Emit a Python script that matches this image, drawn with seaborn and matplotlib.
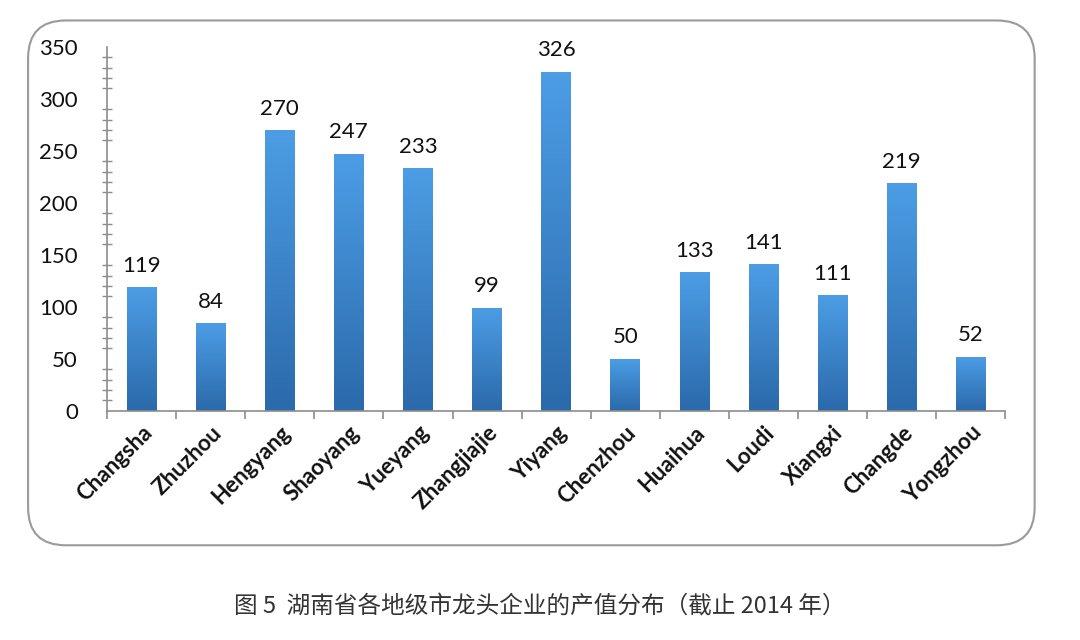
import numpy as np
import pandas as pd
import matplotlib
matplotlib.use("Agg")
import matplotlib.pyplot as plt
import seaborn as sns
from matplotlib.patches import FancyBboxPatch
from matplotlib.colors import LinearSegmentedColormap
from matplotlib.ticker import MultipleLocator, FixedLocator

# data
cities = ['Changsha', 'Zhuzhou', 'Hengyang', 'Shaoyang', 'Yueyang', 'Zhangjiajie',
          'Yiyang', 'Chenzhou', 'Huaihua', 'Loudi', 'Xiangxi', 'Changde', 'Yongzhou']
values = [119, 84, 270, 247, 233, 99, 326, 50, 133, 141, 111, 219, 52]
caption = '图 5  湖南省各地级市龙头企业的产值分布（截止 2014 年）'

df = pd.DataFrame({'city': cities, 'value': values})

sns.set_style('white')
plt.rcParams['font.family'] = ['Lato', 'DejaVu Sans']

fig = plt.figure(figsize=(10.8, 6.4), dpi=100)
ax = fig.add_axes([0.099, 0.358, 0.832, 0.569])

sns.barplot(data=df, x='city', y='value', color='#3d85cf', width=0.43, ax=ax,
            saturation=1)

# vertical gradient fill on each bar
grad = LinearSegmentedColormap.from_list('g', ['#2b6aab', '#4c9de5'])
ax.set_ylim(0, 350)
ax.set_xlim(-0.5, len(cities) - 0.5)
for p in ax.patches:
    x0, y0 = p.get_x(), p.get_y()
    w, h = p.get_width(), p.get_height()
    img = np.linspace(0, 1, 100).reshape(-1, 1)
    im = ax.imshow(img, extent=[x0, x0 + w, y0, y0 + h], origin='lower',
                   cmap=grad, aspect='auto', zorder=p.get_zorder())
    im.set_clip_path(p)
    p.set_facecolor('none')
    p.set_edgecolor('none')
ax.set_ylim(0, 350)
ax.set_xlim(-0.5, len(cities) - 0.5)

for i, v in enumerate(values):
    ax.text(i, v + 11, str(v), ha='center', va='bottom', fontsize=16, color='#111')

# axes styling
for s in ['top', 'right']:
    ax.spines[s].set_visible(False)
for s in ['left', 'bottom']:
    ax.spines[s].set_color('#8c8c8c')
    ax.spines[s].set_linewidth(1.2)

ax.yaxis.set_major_locator(MultipleLocator(50))
ax.yaxis.set_minor_locator(MultipleLocator(10))
ax.tick_params(axis='y', which='major', direction='inout', length=10, width=1.2,
               color='#8c8c8c', labelsize=16, labelcolor='#111', pad=16)
ax.tick_params(axis='y', which='minor', direction='inout', length=7, width=1,
               color='#8c8c8c', left=True)
ax.xaxis.set_major_locator(FixedLocator(range(len(cities))))
ax.xaxis.set_minor_locator(FixedLocator(np.arange(-0.5, len(cities), 1.0)))
ax.tick_params(axis='x', which='major', length=0, pad=8)
ax.tick_params(axis='x', which='minor', direction='out', length=6, width=1.2,
               color='#8c8c8c', bottom=True)
ax.set_xticks(range(len(cities)))
ax.set_xticklabels(cities, rotation=45, ha='right', rotation_mode='anchor',
                   fontsize=16, fontweight='bold', color='#111')
ax.set_xlabel('')
ax.set_ylabel('')
ax.set_facecolor('none')

# rounded frame around the chart
frame = FancyBboxPatch((0.026, 0.148), 0.932, 0.820,
                       boxstyle='round,pad=0,rounding_size=0.035',
                       transform=fig.transFigure, facecolor='none',
                       edgecolor='#9a9a9a', linewidth=1.5, mutation_aspect=1080 / 640)
fig.patches.append(frame)

fig.text(0.5, 0.052, caption, ha='center', va='center', fontsize=17, color='#333',
         family=['Noto Sans CJK SC', 'DejaVu Sans'])

fig.savefig('out.png', dpi=100)
